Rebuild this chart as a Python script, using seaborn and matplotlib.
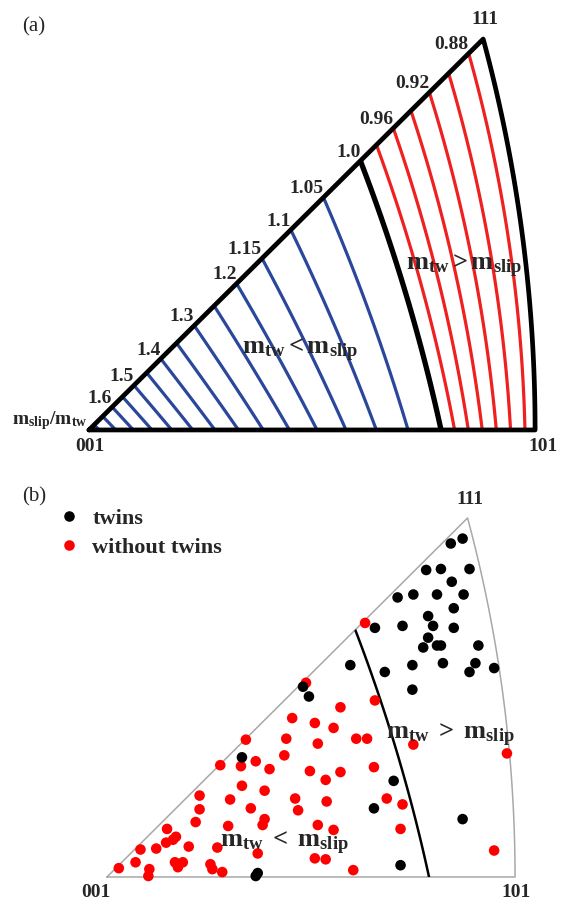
import itertools

import numpy as np
import pandas as pd
import matplotlib
matplotlib.use("Agg")
import matplotlib.pyplot as plt
from matplotlib.lines import Line2D
from matplotlib.patches import PathPatch
from matplotlib.path import Path
import seaborn as sns

# ---------------------------------------------------------------- data
# contour levels of m_slip / m_tw
BOUNDARY_LEVEL = 1.0
BLUE_LEVELS = [1.05, 1.10, 1.15, 1.20, 1.25, 1.30, 1.35, 1.40, 1.45, 1.50, 1.55, 1.60, 1.65, 1.70]
RED_LEVELS = [0.88, 0.90, 0.92, 0.94, 0.96, 0.98]
EDGE_TICKS = [1.6, 1.5, 1.4, 1.3, 1.2, 1.15, 1.1, 1.05, 1.0, 0.96, 0.92, 0.88]
EDGE_TICK_LABELS = ["1.6", "1.5", "1.4", "1.3", "1.2", "1.15", "1.1", "1.05", "1.0", "0.96", "0.92", "0.88"]

# grain orientations (stereographic coordinates inside the 001-101-111 triangle)
TWIN_X = [0.361, 0.349, 0.324, 0.339, 0.368, 0.350, 0.295, 0.311, 0.335, 0.362,
          0.352, 0.326, 0.272, 0.300, 0.331, 0.352, 0.326, 0.321, 0.335, 0.339,
          0.377, 0.247, 0.282, 0.310, 0.341, 0.374, 0.368, 0.393, 0.310, 0.199,
          0.205, 0.137, 0.291, 0.271, 0.361, 0.298, 0.151, 0.153]
TWIN_Y = [0.345, 0.340, 0.313, 0.314, 0.314, 0.301, 0.285, 0.288, 0.288, 0.288,
          0.274, 0.266, 0.254, 0.256, 0.256, 0.254, 0.244, 0.234, 0.236, 0.236,
          0.236, 0.216, 0.209, 0.216, 0.218, 0.218, 0.209, 0.213, 0.191, 0.194,
          0.184, 0.122, 0.098, 0.070, 0.059, 0.012, 0.001, 0.004]
FREE_X = [0.262, 0.202, 0.272, 0.237, 0.188, 0.211, 0.230, 0.141, 0.182, 0.214,
          0.253, 0.264, 0.311, 0.406, 0.180, 0.115, 0.136, 0.151, 0.165, 0.206,
          0.237, 0.271, 0.222, 0.137, 0.160, 0.094, 0.125, 0.191, 0.223, 0.284,
          0.094, 0.146, 0.194, 0.300, 0.090, 0.160, 0.158, 0.123, 0.214, 0.230,
          0.298, 0.061, 0.070, 0.067, 0.060, 0.050, 0.034, 0.083, 0.112, 0.153,
          0.029, 0.069, 0.077, 0.072, 0.211, 0.222, 0.393, 0.012, 0.043, 0.105,
          0.107, 0.117, 0.250, 0.042]
FREE_Y = [0.259, 0.198, 0.180, 0.173, 0.162, 0.157, 0.152, 0.140, 0.141, 0.136,
          0.141, 0.141, 0.135, 0.126, 0.124, 0.114, 0.113, 0.118, 0.110, 0.108,
          0.107, 0.112, 0.099, 0.093, 0.088, 0.083, 0.079, 0.080, 0.077, 0.080,
          0.069, 0.070, 0.068, 0.074, 0.056, 0.059, 0.053, 0.052, 0.053, 0.048,
          0.049, 0.049, 0.041, 0.038, 0.035, 0.029, 0.028, 0.031, 0.030, 0.024,
          0.015, 0.015, 0.015, 0.010, 0.019, 0.018, 0.027, 0.009, 0.008, 0.013,
          0.008, 0.005, 0.007, 0.001]
GROUPS = ["twins", "without twins"]
GROUP_COLORS = {"twins": "#000000", "without twins": "#ff0000"}

BLUE = "#2b479c"
RED = "#ee2020"

# ---------------------------------------------------------------- style
sns.set_theme(style="white")
plt.rcParams["font.family"] = ["Liberation Serif", "DejaVu Serif"]
plt.rcParams["mathtext.fontset"] = "custom"
plt.rcParams["mathtext.rm"] = "Liberation Serif"
plt.rcParams["mathtext.it"] = "Liberation Serif:italic"
plt.rcParams["mathtext.bf"] = "Liberation Serif:bold"


# ---------------------------------------------------------------- crystallography
def stereo_to_dir(X, Y):
    r2 = X ** 2 + Y ** 2
    return np.stack([2 * X, 2 * Y, 1 - r2]) / (1 + r2)


def dir_to_stereo(d):
    d = np.asarray(d, float)
    d = d / np.linalg.norm(d, axis=0)
    return d[0] / (1 + d[2]), d[1] / (1 + d[2])


PLANES = np.array([[1, 1, 1], [-1, 1, 1], [1, -1, 1], [1, 1, -1]], float)
DIRS_110 = [np.array(v, float) for v in itertools.product([-1, 0, 1], repeat=3)
            if sum(abs(x) for x in v) == 2]


def schmid_ratio(t):
    """m_slip / m_tw for fcc under uniaxial tension along t (shape 3 x ...)."""
    m_slip = np.zeros(t.shape[1:])
    m_tw = np.full(t.shape[1:], -np.inf)
    for n in PLANES:
        nt = np.tensordot(n, t, 1) / np.sqrt(3)
        for b in DIRS_110:
            if np.dot(n, b) == 0:
                m_slip = np.maximum(m_slip, np.abs(nt * np.tensordot(b, t, 1) / np.sqrt(2)))
        a, b_, c = n
        for d in ([a, b_, -2 * c], [a, -2 * b_, c], [-2 * a, b_, c]):
            m_tw = np.maximum(m_tw, nt * np.tensordot(np.array(d, float), t, 1) / np.sqrt(6))
    return m_slip / m_tw


# standard triangle outline
arc_t = np.linspace(0, 1, 120)
arc_x, arc_y = dir_to_stereo(np.stack([np.ones_like(arc_t), arc_t, np.ones_like(arc_t)]))
tri_x = np.concatenate([[0.0], arc_x, [0.0]])
tri_y = np.concatenate([[0.0], arc_y, [0.0]])
P001 = (0.0, 0.0)
P101 = (arc_x[0], arc_y[0])
P111 = (arc_x[-1], arc_y[-1])

# ratio field on a grid
gx, gy = np.meshgrid(np.linspace(-0.01, 0.43, 500), np.linspace(-0.01, 0.38, 450))
field = schmid_ratio(stereo_to_dir(gx, gy))

# ratio along the 001-111 edge, for the edge labels
alpha = np.linspace(0, np.arctan(np.sqrt(2)), 2000)
edge_dir = np.stack([np.sin(alpha) / np.sqrt(2), np.sin(alpha) / np.sqrt(2), np.cos(alpha)])
edge_ratio = schmid_ratio(edge_dir)
edge_x, edge_y = dir_to_stereo(edge_dir)

# ---------------------------------------------------------------- figure
W, H = 569, 902
fig = plt.figure(figsize=(W / 100, H / 100), dpi=100)
ax_a = fig.add_axes([0, 0.5, 1, 0.5])
ax_b = fig.add_axes([0, 0, 1, 0.5])
ax_a.set_xlim(-0.0826, 0.4457)
ax_a.set_ylim(-0.0197, 0.4026)
ax_b.set_xlim(-0.1086, 0.4690)
ax_b.set_ylim(-0.0255, 0.4343)
for ax in (ax_a, ax_b):
    ax.set_aspect("auto")
    ax.axis("off")

tri_path = Path(np.column_stack([tri_x, tri_y]))


def clip_to_triangle(ax, cs):
    patch = PathPatch(tri_path, transform=ax.transData, facecolor="none", edgecolor="none")
    cs.set_clip_path(patch)


def ftext(px, py, s, **kw):
    fig.text(px / W, 1 - py / H, s, **kw)


# ---------------- panel (a)
cs_blue = ax_a.contour(gx, gy, field, levels=BLUE_LEVELS, colors=BLUE, linewidths=2.3)
cs_red = ax_a.contour(gx, gy, field, levels=RED_LEVELS, colors=RED, linewidths=2.3)
cs_one = ax_a.contour(gx, gy, field, levels=[BOUNDARY_LEVEL], colors="black", linewidths=3.8)
for cs in (cs_blue, cs_red, cs_one):
    clip_to_triangle(ax_a, cs)
ax_a.plot(tri_x, tri_y, color="black", lw=3.4, solid_joinstyle="round", zorder=5)

order = np.argsort(edge_ratio)
for val, lab in zip(EDGE_TICKS, EDGE_TICK_LABELS):
    ex = np.interp(val, edge_ratio[order], edge_x[order])
    ey = np.interp(val, edge_ratio[order], edge_y[order])
    ax_a.annotate(lab, xy=(ex, ey), xytext=(0, 3), textcoords="offset points",
                  ha="right", va="baseline", fontsize=14, fontweight="bold")

vkw = dict(textcoords="offset points", ha="center", va="center", fontsize=14, fontweight="bold")
ax_a.annotate("111", xy=P111, xytext=(1.5, 14), **vkw)
ax_a.annotate("001", xy=P001, xytext=(1, -12), **vkw)
ax_a.annotate("101", xy=P101, xytext=(6, -12), **vkw)

ftext(34, 27, "(a)", fontsize=15, ha="center", va="center")
ftext(50, 421, r"$\mathbf{m}_{\mathbf{slip}}\mathbf{/m}_{\mathbf{tw}}$", fontsize=14,
      ha="center", va="center")
ftext(464, 266, r"$\mathbf{m}_{\mathbf{tw}}{\mathbf{>}}\mathbf{m}_{\mathbf{slip}}$", fontsize=19,
      ha="center", va="center", zorder=10)
ftext(300, 350, r"$\mathbf{m}_{\mathbf{tw}}{\mathbf{<}}\mathbf{m}_{\mathbf{slip}}$", fontsize=19,
      ha="center", va="center", zorder=10)

# ---------------- panel (b)
ax_b.plot(tri_x, tri_y, color="#a8a8a8", lw=1.1, zorder=1)
cs_b = ax_b.contour(gx, gy, field, levels=[BOUNDARY_LEVEL], colors="black", linewidths=1.8)
clip_to_triangle(ax_b, cs_b)

grains = pd.concat([
    pd.DataFrame({"x": FREE_X, "y": FREE_Y, "group": "without twins"}),
    pd.DataFrame({"x": TWIN_X, "y": TWIN_Y, "group": "twins"}),
], ignore_index=True)
sns.scatterplot(data=grains, x="x", y="y", hue="group", hue_order=GROUPS,
                palette=GROUP_COLORS, s=58, linewidth=0, legend=False, ax=ax_b, zorder=4)

handles = [Line2D([], [], ls="none", marker="o", markersize=7.6, markeredgewidth=0,
                  color=GROUP_COLORS[g]) for g in GROUPS]
ax_b.legend(handles, GROUPS, loc="upper left", bbox_to_anchor=(58 / W, 1 - 508 / H),
            bbox_transform=fig.transFigure, frameon=False, handlelength=1.0,
            handletextpad=0.55, labelspacing=0.38, borderpad=0, borderaxespad=0,
            prop={"family": "Liberation Serif", "weight": "bold", "size": 16})

ax_b.annotate("111", xy=P111, xytext=(2, 13), **vkw)
ax_b.annotate("001", xy=P001, xytext=(-8, -11), **vkw)
ax_b.annotate("101", xy=P101, xytext=(1, -11), **vkw)

ftext(34, 497, "(b)", fontsize=15, ha="center", va="center")
ftext(450, 735, r"$\mathbf{m}_{\mathbf{tw}}\ \mathbf{>}\ \mathbf{m}_{\mathbf{slip}}$", fontsize=19,
      ha="center", va="center")
ftext(284, 843, r"$\mathbf{m}_{\mathbf{tw}}\ \mathbf{<}\ \mathbf{m}_{\mathbf{slip}}$", fontsize=19,
      ha="center", va="center")

fig.savefig("out.png", dpi=100, facecolor="white")
